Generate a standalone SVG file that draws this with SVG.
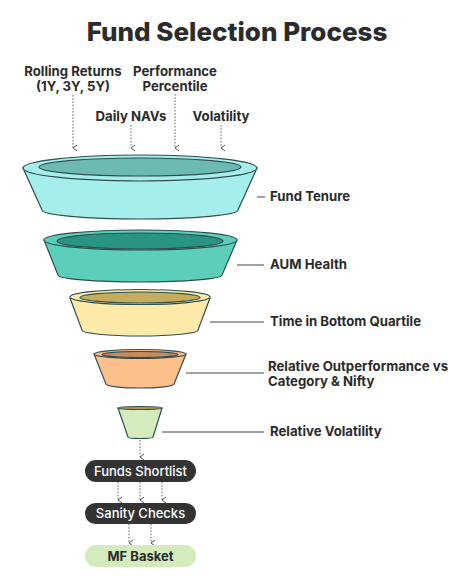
<svg xmlns="http://www.w3.org/2000/svg" width="474" height="588" viewBox="0 0 474 588">
<defs>
<marker id="ah" viewBox="0 0 8 6" refX="4" refY="5" markerWidth="8" markerHeight="6" markerUnits="userSpaceOnUse" orient="auto-start-reverse">
<path d="M1,1 L4,5 L7,1" fill="none" stroke="#555" stroke-width="1"/>
</marker>
</defs>
<style>
text{font-family:Inter,"Open Sans","Liberation Sans",sans-serif;fill:#2b2b2b}
.t{font-size:26px;font-weight:800}
.l{font-size:13.2px;font-weight:700}
.f{stroke:#2f4f4f;stroke-width:1.2}
.dot{fill:none;stroke:#666;stroke-width:1;stroke-dasharray:1.6 1.6;marker-end:url(#ah)}
.ln{stroke:#444;stroke-width:1}
.pill{fill:#333}
.pt{font-size:13px;font-weight:500;fill:#fff;text-anchor:middle}
</style>
<rect width="474" height="588" fill="#fff"/>
<text class="t" x="237" y="41" text-anchor="middle">Fund Selection Process</text>
<g id="inputs">
<text class="l" x="73" y="76" text-anchor="middle">Rolling Returns</text>
<text class="l" x="73" y="91" text-anchor="middle">(1Y, 3Y, 5Y)</text>
<text class="l" x="175" y="76" text-anchor="middle">Performance</text>
<text class="l" x="175" y="91" text-anchor="middle">Percentile</text>
<text class="l" x="131" y="121" text-anchor="middle">Daily NAVs</text>
<text class="l" x="221" y="121" text-anchor="middle">Volatility</text>
</g>
<g id="connectors">
<path class="dot" d="M73,95 V148"/>
<path class="dot" d="M131,125 V148"/>
<path class="dot" d="M175,94 V148"/>
<path class="dot" d="M221,125 V148"/>
<line class="ln" x1="257" y1="197" x2="265" y2="197"/>
<line class="ln" x1="237" y1="265" x2="264" y2="265"/>
<line class="ln" x1="210" y1="322" x2="264" y2="322"/>
<line class="ln" x1="186" y1="373" x2="264" y2="373"/>
<line class="ln" x1="162" y1="432" x2="264" y2="432"/>
<path class="dot" d="M140,440 V457"/>
<path class="dot" d="M118,482 V500"/>
<path class="dot" d="M140,482 V500"/>
<path class="dot" d="M162,482 V500"/>
<path class="dot" d="M129,524 V543"/>
<path class="dot" d="M151,524 V543"/>
</g>
<g id="fund-tenure">
<path class="f" d="M23,168 L42,210 A98,9 0 0 0 238,210 L257,168 Z" fill="#a6eeeb"/>
<ellipse class="f" cx="140" cy="168" rx="117" ry="13" fill="#a6eeeb"/>
<ellipse class="f" cx="140" cy="167" rx="101" ry="9" fill="#6dbab2"/>
<text class="l" x="270" y="201">Fund Tenure</text>
</g>
<g id="aum-health">
<path class="f" d="M44,240 L58,275 A82,7 0 0 0 222,275 L237,240 Z" fill="#5ccfbb"/>
<ellipse class="f" cx="140.5" cy="240" rx="96.5" ry="10" fill="#5ccfbb"/>
<ellipse class="f" cx="140" cy="241" rx="83" ry="8" fill="#2a9483"/>
<text class="l" x="270" y="269">AUM Health</text>
</g>
<g id="bottom-quartile">
<path class="f" d="M70,298 L82,330 A58,6 0 0 0 198,330 L210,298 Z" fill="#fdeaa8"/>
<ellipse class="f" cx="140" cy="297" rx="70" ry="7.5" fill="#fdeaa8"/>
<ellipse class="f" cx="140" cy="297.5" rx="60" ry="5.5" fill="#c4ae5e"/>
<text class="l" x="270" y="326">Time in Bottom Quartile</text>
</g>
<g id="outperformance">
<path class="f" d="M94,354 L106,384 A34,4 0 0 0 174,384 L186,354 Z" fill="#fdc08a"/>
<ellipse class="f" cx="140" cy="354" rx="46" ry="4.5" fill="#fdc08a"/>
<ellipse class="f" cx="140" cy="354.5" rx="38" ry="3" fill="#c88a5e"/>
<text class="l" x="268" y="371">Relative Outperformance vs</text>
<text class="l" x="268" y="386">Category &amp; Nifty</text>
</g>
<g id="relative-volatility">
<path class="f" d="M118,408 L128,437 A12.5,1.5 0 0 0 153,437 L162,408 Z" fill="#d4ecbd"/>
<ellipse class="f" cx="140" cy="408" rx="22" ry="1.5" fill="#a89a5a"/>
<text class="l" x="270" y="436">Relative Volatility</text>
</g>
<g id="funds-shortlist">
<rect class="pill" x="85" y="460" width="111" height="22" rx="11"/>
<text class="pt" x="140.5" y="475.5">Funds Shortlist</text>
</g>
<g id="sanity-checks">
<rect class="pill" x="85" y="503" width="111" height="21" rx="10.5"/>
<text class="pt" x="140.5" y="518">Sanity Checks</text>
</g>
<g id="mf-basket">
<rect x="85" y="545" width="111" height="22" rx="11" fill="#d4ecbd"/>
<text class="pt" x="140.5" y="560.5" style="fill:#2b2b2b;font-weight:700">MF Basket</text>
</g>
</svg>
